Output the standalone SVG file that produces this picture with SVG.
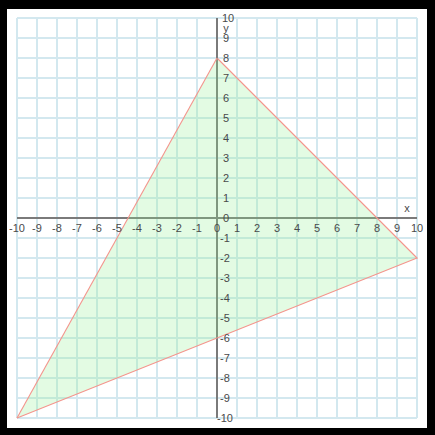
<svg xmlns="http://www.w3.org/2000/svg" width="435" height="435" viewBox="0 0 435 435">
<style>
.grid line{stroke:#d3e8ef;stroke-width:2}
.axis{stroke:#7a7a7a;stroke-width:2}
text{font-family:"Liberation Sans",Arial,sans-serif;font-size:11px;fill:#4a4a4a}
.xl{text-anchor:middle}
.yl{text-anchor:start;dominant-baseline:central}
.edge{stroke:#f4948c;stroke-width:1.1;fill:none}
</style>
<rect x="0" y="0" width="435" height="435" fill="#000"/>
<rect x="7" y="9" width="420" height="419" fill="#fff"/>
<g id="grid" class="grid">
<line x1="17" y1="18" x2="17" y2="418"/><line x1="37" y1="18" x2="37" y2="418"/><line x1="57" y1="18" x2="57" y2="418"/><line x1="77" y1="18" x2="77" y2="418"/><line x1="97" y1="18" x2="97" y2="418"/><line x1="117" y1="18" x2="117" y2="418"/><line x1="137" y1="18" x2="137" y2="418"/><line x1="157" y1="18" x2="157" y2="418"/><line x1="177" y1="18" x2="177" y2="418"/><line x1="197" y1="18" x2="197" y2="418"/><line x1="237" y1="18" x2="237" y2="418"/><line x1="257" y1="18" x2="257" y2="418"/><line x1="277" y1="18" x2="277" y2="418"/><line x1="297" y1="18" x2="297" y2="418"/><line x1="317" y1="18" x2="317" y2="418"/><line x1="337" y1="18" x2="337" y2="418"/><line x1="357" y1="18" x2="357" y2="418"/><line x1="377" y1="18" x2="377" y2="418"/><line x1="397" y1="18" x2="397" y2="418"/><line x1="417" y1="18" x2="417" y2="418"/>
<line x1="17" y1="18" x2="417" y2="18"/><line x1="17" y1="38" x2="417" y2="38"/><line x1="17" y1="58" x2="417" y2="58"/><line x1="17" y1="78" x2="417" y2="78"/><line x1="17" y1="98" x2="417" y2="98"/><line x1="17" y1="118" x2="417" y2="118"/><line x1="17" y1="138" x2="417" y2="138"/><line x1="17" y1="158" x2="417" y2="158"/><line x1="17" y1="178" x2="417" y2="178"/><line x1="17" y1="198" x2="417" y2="198"/><line x1="17" y1="238" x2="417" y2="238"/><line x1="17" y1="258" x2="417" y2="258"/><line x1="17" y1="278" x2="417" y2="278"/><line x1="17" y1="298" x2="417" y2="298"/><line x1="17" y1="318" x2="417" y2="318"/><line x1="17" y1="338" x2="417" y2="338"/><line x1="17" y1="358" x2="417" y2="358"/><line x1="17" y1="378" x2="417" y2="378"/><line x1="17" y1="398" x2="417" y2="398"/><line x1="17" y1="418" x2="417" y2="418"/>
</g>
<g id="axes">
<line class="axis" x1="17" y1="218" x2="417" y2="218"/>
<line class="axis" x1="217" y1="18" x2="217" y2="418"/>
</g>
<g id="triangle">
<polygon points="217,58 417,258 17,418" fill="#90ee90" fill-opacity="0.25" stroke="none"/>
<path class="edge" d="M217.5,58.5 L417.5,258.5"/>
<path class="edge" d="M417,258 L17,418"/>
<path class="edge" d="M17,418 L217,58"/>
</g>
<g id="xlabels" class="xl">
<text x="17" y="232">-10</text><text x="37" y="232">-9</text><text x="57" y="232">-8</text><text x="77" y="232">-7</text><text x="97" y="232">-6</text><text x="117" y="232">-5</text><text x="137" y="232">-4</text><text x="157" y="232">-3</text><text x="177" y="232">-2</text><text x="197" y="232">-1</text><text x="217" y="232">0</text><text x="237" y="232">1</text><text x="257" y="232">2</text><text x="277" y="232">3</text><text x="297" y="232">4</text><text x="317" y="232">5</text><text x="337" y="232">6</text><text x="357" y="232">7</text><text x="377" y="232">8</text><text x="397" y="232">9</text><text x="417" y="232">10</text>
</g>
<g id="ylabels" class="yl">
<text x="222" y="18">10</text><text x="223" y="38">9</text><text x="223" y="58">8</text><text x="223" y="78">7</text><text x="223" y="98">6</text><text x="223" y="118">5</text><text x="223" y="138">4</text><text x="223" y="158">3</text><text x="223" y="178">2</text><text x="223" y="198">1</text><text x="223" y="218">0</text><text x="220" y="238">-1</text><text x="220" y="258">-2</text><text x="220" y="278">-3</text><text x="220" y="298">-4</text><text x="220" y="318">-5</text><text x="220" y="338">-6</text><text x="220" y="358">-7</text><text x="220" y="378">-8</text><text x="220" y="398">-9</text><text x="217" y="418">-10</text>
</g>
<text x="407" y="212" class="xl">x</text>
<text x="226" y="32" class="xl">y</text>
</svg>
